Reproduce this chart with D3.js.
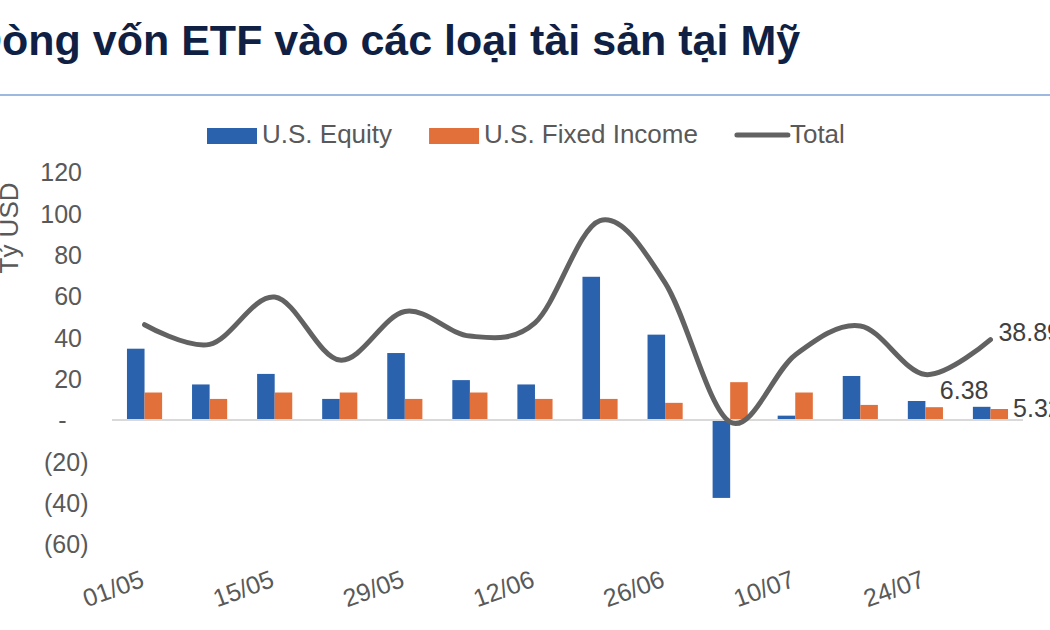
<!DOCTYPE html>
<html>
<head>
<meta charset="utf-8">
<script src="https://cdn.jsdelivr.net/npm/d3@7"></script>
<style>
    body { margin: 0; background: #fff; }
    svg { display: block; font-family: "Liberation Sans", Arial, sans-serif; }
</style>
</head>
<body>
<div id="chart"></div>
<script>
var categories = ["01/05", "08/05", "15/05", "22/05", "29/05", "05/06", "12/06",
    "19/06", "26/06", "03/07", "10/07", "17/07", "24/07", "31/07"];
var equity = [34.5, 17.2, 22.3, 10.2, 32.4, 19.3, 17.2, 69.3, 41.3, -37.7, 2.1, 21.3, 9.2, 6.38];
var fixedIncome = [13.3, 10.2, 13.3, 13.3, 10.2, 13.3, 10.2, 10.2, 8.3, 18.3, 13.3, 7.3, 6.2, 5.32];
var total = [46.1, 36.6, 59.5, 29.0, 52.5, 40.6, 47.0, 96.5, 66.4, -1.0, 31.5, 45.5, 22.0, 38.89];
var yTicks = [-60, -40, -20, 0, 20, 40, 60, 80, 100, 120];
var seriesNames = ["U.S. Equity", "U.S. Fixed Income", "Total"];

function init() {
    var w = 1050;
    var h = 630;
    var blue = "#2a62ad";
    var orange = "#e2703a";
    var grey = "#626262";
    var textColor = "#595959";

    var svg = d3.select("#chart")
        .append("svg")
        .attr("width", w)
        .attr("height", h);

    // title + rule
    svg.append("text")
        .attr("x", -29)
        .attr("y", 55)
        .attr("font-size", 43)
        .attr("font-weight", "bold")
        .attr("fill", "#101f44")
        .text("Dòng vốn ETF vào các loại tài sản tại Mỹ");

    svg.append("line")
        .attr("x1", 0).attr("x2", w)
        .attr("y1", 95).attr("y2", 95)
        .attr("stroke", "#7da2d6")
        .attr("stroke-width", 1.5);

    var xScale = d3.scaleBand()
        .domain(categories)
        .range([112, 1023])
        .padding(0);

    var yScale = d3.scaleLinear()
        .domain([-60, 120])
        .range([544, 172]);

    var barW = xScale.bandwidth() * 0.27;
    function cx(d) { return xScale(d) + xScale.bandwidth() / 2; }

    // y axis
    var yAxis = svg.append("g")
        .call(d3.axisLeft(yScale)
            .tickValues(yTicks)
            .tickSize(0)
            .tickFormat(function (d) {
                if (d === 0) return "-";
                return d < 0 ? "(" + Math.abs(d) + ")" : d;
            }));
    yAxis.select(".domain").remove();
    yAxis.selectAll("text")
        .attr("x", function (d) {
            if (d === 0) return 66.5;
            return d < 0 ? 88.5 : 82;
        })
        .attr("dy", "0.35em")
        .attr("font-size", 25)
        .attr("font-family", null)
        .attr("fill", textColor);

    svg.append("text")
        .attr("transform", "translate(18,228) rotate(-90)")
        .attr("text-anchor", "middle")
        .attr("font-size", 26)
        .attr("fill", textColor)
        .text("Tỷ USD");

    // x axis labels, every second week
    var xAxis = svg.append("g")
        .attr("transform", "translate(0,544)")
        .call(d3.axisBottom(xScale)
            .tickValues(categories.filter(function (d, i) { return i % 2 === 0; }))
            .tickSize(0));
    xAxis.select(".domain").remove();
    xAxis.selectAll("text")
        .attr("x", 0)
        .attr("y", 0)
        .attr("dy", null)
        .attr("text-anchor", "end")
        .attr("transform", "translate(1,42) rotate(-20)")
        .attr("font-size", 25)
        .attr("font-family", null)
        .attr("fill", textColor);

    // bars
    svg.selectAll(".bar-eq")
        .data(equity)
        .enter()
        .append("rect")
        .attr("class", "bar-eq")
        .attr("x", function (d, i) { return cx(categories[i]) - barW; })
        .attr("y", function (d) { return yScale(Math.max(0, d)); })
        .attr("width", barW)
        .attr("height", function (d) { return Math.abs(yScale(d) - yScale(0)); })
        .attr("fill", blue);

    svg.selectAll(".bar-fi")
        .data(fixedIncome)
        .enter()
        .append("rect")
        .attr("class", "bar-fi")
        .attr("x", function (d, i) { return cx(categories[i]); })
        .attr("y", function (d) { return yScale(Math.max(0, d)); })
        .attr("width", barW)
        .attr("height", function (d) { return Math.abs(yScale(d) - yScale(0)); })
        .attr("fill", orange);

    // zero line
    svg.append("line")
        .attr("x1", xScale.range()[0]).attr("x2", xScale.range()[1])
        .attr("y1", yScale(0)).attr("y2", yScale(0))
        .attr("stroke", "#d9d9d9")
        .attr("stroke-width", 2);

    // total line
    var line = d3.line()
        .x(function (d, i) { return cx(categories[i]); })
        .y(function (d) { return yScale(d); })
        .curve(d3.curveCardinal.tension(0));

    svg.append("path")
        .datum(total)
        .attr("d", line)
        .attr("fill", "none")
        .attr("stroke", grey)
        .attr("stroke-width", 5)
        .attr("stroke-linecap", "round");

    // last-point labels
    var last = categories.length - 1;
    var lastX = cx(categories[last]);
    svg.append("text")
        .attr("x", lastX + 8)
        .attr("y", yScale(total[last]) - 7)
        .attr("dy", "0.35em")
        .attr("font-size", 25)
        .attr("fill", "#404040")
        .text(total[last].toFixed(2));

    svg.append("text")
        .attr("x", lastX - 2)
        .attr("y", yScale(equity[last]) - 8)
        .attr("text-anchor", "end")
        .attr("font-size", 25)
        .attr("fill", "#404040")
        .text(equity[last].toFixed(2));

    svg.append("text")
        .attr("x", lastX + barW + 5)
        .attr("y", yScale(fixedIncome[last]) - 1)
        .attr("dy", "0.35em")
        .attr("font-size", 25)
        .attr("fill", "#404040")
        .text(fixedIncome[last].toFixed(2));

    // legend
    var lx = 207;
    var colors = [blue, orange, grey];
    seriesNames.forEach(function (name, i) {
        if (i < 2) {
            svg.append("rect")
                .attr("x", lx).attr("y", 128)
                .attr("width", 50).attr("height", 16)
                .attr("fill", colors[i]);
        } else {
            svg.append("line")
                .attr("x1", lx + 2).attr("x2", lx + 53)
                .attr("y1", 135).attr("y2", 135)
                .attr("stroke", colors[i])
                .attr("stroke-width", 5)
                .attr("stroke-linecap", "round");
        }
        var t = svg.append("text")
            .attr("x", lx + 55)
            .attr("y", 143)
            .attr("font-size", 26)
            .attr("fill", textColor)
            .text(name);
        lx = lx + 55 + t.node().getComputedTextLength() + 37;
    });
}

window.onload = init;
</script>
</body>
</html>
